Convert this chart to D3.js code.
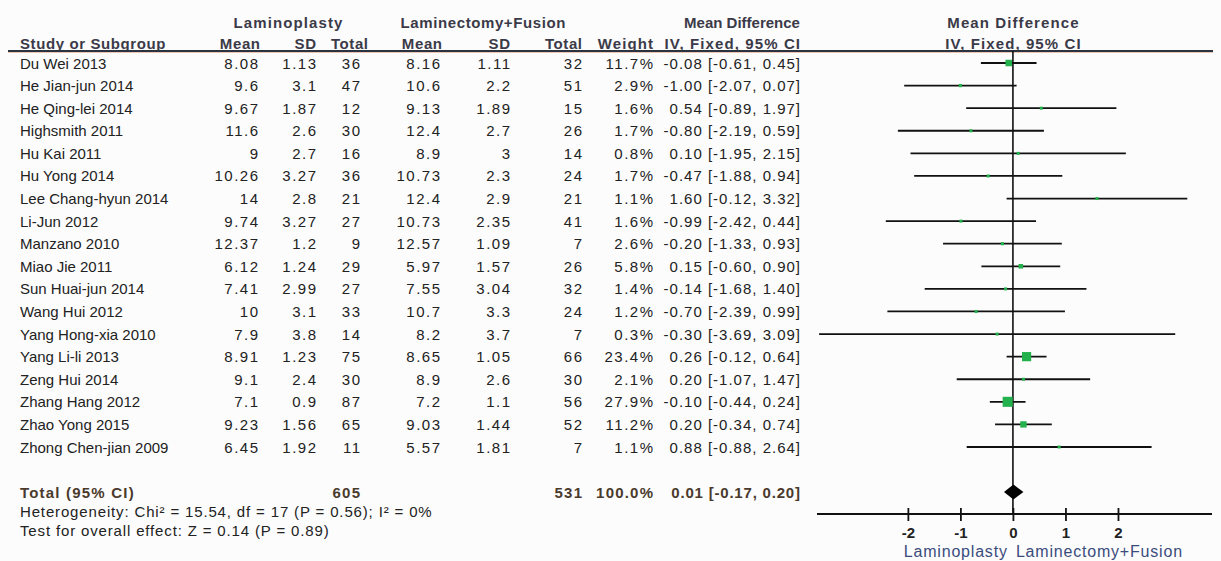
<!DOCTYPE html>
<html>
<head>
<meta charset="utf-8">
<script src="https://cdn.jsdelivr.net/npm/d3@7"></script>
<style>
  html, body { margin: 0; padding: 0; background: #fcfcfc; }
  svg { display: block; }
  text { font-family: "Liberation Sans", Arial, sans-serif; }
</style>
</head>
<body>
<svg id="chart" width="1221" height="561"></svg>
<script>
// Studies and their arm statistics (shown as printed)
const studies = [
  "Du Wei 2013", "He Jian-jun 2014", "He Qing-lei 2014", "Highsmith 2011",
  "Hu Kai 2011", "Hu Yong 2014", "Lee Chang-hyun 2014", "Li-Jun 2012",
  "Manzano 2010", "Miao Jie 2011", "Sun Huai-jun 2014", "Wang Hui 2012",
  "Yang Hong-xia 2010", "Yang Li-li 2013", "Zeng Hui 2014", "Zhang Hang 2012",
  "Zhao Yong 2015", "Zhong Chen-jian 2009"
];
const lpMean  = ["8.08","9.6","9.67","11.6","9","10.26","14","9.74","12.37","6.12","7.41","10","7.9","8.91","9.1","7.1","9.23","6.45"];
const lpSD    = ["1.13","3.1","1.87","2.6","2.7","3.27","2.8","3.27","1.2","1.24","2.99","3.1","3.8","1.23","2.4","0.9","1.56","1.92"];
const lpTotal = [36, 47, 12, 30, 16, 36, 21, 27, 9, 29, 27, 33, 14, 75, 30, 87, 65, 11];
const lfMean  = ["8.16","10.6","9.13","12.4","8.9","10.73","12.4","10.73","12.57","5.97","7.55","10.7","8.2","8.65","8.9","7.2","9.03","5.57"];
const lfSD    = ["1.11","2.2","1.89","2.7","3","2.3","2.9","2.35","1.09","1.57","3.04","3.3","3.7","1.05","2.6","1.1","1.44","1.81"];
const lfTotal = [32, 51, 15, 26, 14, 24, 21, 41, 7, 26, 32, 24, 7, 66, 30, 56, 52, 7];
const weight  = [11.7, 2.9, 1.6, 1.7, 0.8, 1.7, 1.1, 1.6, 2.6, 5.8, 1.4, 1.2, 0.3, 23.4, 2.1, 27.9, 11.2, 1.1];
const md      = [-0.08, -1.00, 0.54, -0.80, 0.10, -0.47, 1.60, -0.99, -0.20, 0.15, -0.14, -0.70, -0.30, 0.26, 0.20, -0.10, 0.20, 0.88];
const ciLow   = [-0.61, -2.07, -0.89, -2.19, -1.95, -1.88, -0.12, -2.42, -1.33, -0.60, -1.68, -2.39, -3.69, -0.12, -1.07, -0.44, -0.34, -0.88];
const ciHigh  = [0.45, 0.07, 1.97, 0.59, 2.15, 0.94, 3.32, 0.44, 0.93, 0.90, 1.40, 0.99, 3.09, 0.64, 1.47, 0.24, 0.74, 2.64];

// Pooled estimate
const totalLabel = "Total (95% CI)";
const totalLp = 605, totalLf = 531, totalWeight = 100.0;
const pooled = { md: 0.01, lo: -0.17, hi: 0.20 };
const heterogeneity = "Heterogeneity: Chi\u00B2 = 15.54, df = 17 (P = 0.56); I\u00B2 = 0%";
const overallTest = "Test for overall effect: Z = 0.14 (P = 0.89)";

// Axis
const tickValues = [-2, -1, 0, 1, 2];
const favourLeft = "Laminoplasty", favourRight = "Laminectomy+Fusion";
const axisExtent = [-3.73, 3.79];

const svg = d3.select("#chart");
const fontSize = 15;
const headColor = "#3b3a48";
const bodyColor = "#222";
const totalColor = "#4a3a2c";

const y = d3.scalePoint().domain(studies).range([63, 447]);
const x = d3.scaleLinear().domain(axisExtent).range([817, 1212]);

// Column right edges for the table
const col = { study: 20, lpMean: 258, lpSD: 316, lpTotal: 360, lfMean: 440, lfSD: 510, lfTotal: 582, weight: 653, ci: 800 };

function txt(g, xx, yy, s, anchor, opts = {}) {
  const ls = opts.ls || 0;
  // trailing letter-spacing would push end-anchored text left, so compensate
  const shift = anchor === "end" ? ls : anchor === "middle" ? ls / 2 : 0;
  return g.append("text")
    .attr("x", xx + shift).attr("y", yy)
    .attr("text-anchor", anchor)
    .attr("dominant-baseline", "central")
    .attr("font-size", opts.size || fontSize)
    .attr("font-weight", opts.bold ? "bold" : "normal")
    .attr("letter-spacing", ls)
    .attr("fill", opts.color || bodyColor)
    .text(s);
}

// ----- Header -----
const head = svg.append("g");
const hb = { bold: true, color: headColor, ls: 0.6 };
const hbWide = { bold: true, color: headColor, ls: 1.1 };
txt(head, 288, 22, "Laminoplasty", "middle", hbWide);
txt(head, 483, 22, "Laminectomy+Fusion", "middle", hb);
txt(head, 742, 22, "Mean Difference", "middle", { bold: true, color: headColor });
txt(head, x(0), 22, "Mean Difference", "middle", hbWide);
txt(head, col.study, 43, "Study or Subgroup", "start", hb);
txt(head, col.lpMean + 2, 43, "Mean", "end", hb);
txt(head, col.lpSD, 43, "SD", "end", hb);
txt(head, col.lpTotal + 8, 43, "Total", "end", hb);
txt(head, col.lfMean + 2, 43, "Mean", "end", hb);
txt(head, col.lfSD, 43, "SD", "end", hb);
txt(head, col.lfTotal, 43, "Total", "end", hb);
txt(head, col.weight, 43, "Weight", "end", hbWide);
txt(head, col.ci, 43, "IV, Fixed, 95% CI", "end", hbWide);
txt(head, x(0), 43, "IV, Fixed, 95% CI", "middle", hbWide);

// header rule
head.append("line").attr("x1", 8).attr("x2", 1213).attr("y1", 51).attr("y2", 51)
  .attr("stroke", "#2b3340").attr("stroke-width", 2.2);
head.append("line").attr("x1", 8).attr("x2", 1213).attr("y1", 52.6).attr("y2", 52.6)
  .attr("stroke", "#d8906a").attr("stroke-width", 0.8).attr("opacity", 0.7);

// ----- Table rows -----
const rows = svg.append("g");
const num = { ls: 1.5 };
const ciStyle = { ls: 1.0 };
studies.forEach((s, i) => {
  const yy = y(s);
  txt(rows, col.study, yy, s, "start");
  txt(rows, col.lpMean, yy, lpMean[i], "end", num);
  txt(rows, col.lpSD, yy, lpSD[i], "end", num);
  txt(rows, col.lpTotal, yy, lpTotal[i], "end", num);
  txt(rows, col.lfMean, yy, lfMean[i], "end", num);
  txt(rows, col.lfSD, yy, lfSD[i], "end", num);
  txt(rows, col.lfTotal, yy, lfTotal[i], "end", num);
  txt(rows, col.weight, yy, weight[i].toFixed(1) + "%", "end", num);
  txt(rows, col.ci, yy, `${md[i].toFixed(2)} [${ciLow[i].toFixed(2)}, ${ciHigh[i].toFixed(2)}]`, "end", ciStyle);
});

// Totals and test statistics
const yTotal = 492;
const tb = { bold: true, color: totalColor, ls: 1.2 };
txt(rows, col.study, yTotal, totalLabel, "start", tb);
txt(rows, col.lpTotal, yTotal, totalLp, "end", tb);
txt(rows, col.lfTotal, yTotal, totalLf, "end", tb);
txt(rows, col.weight, yTotal, totalWeight.toFixed(1) + "%", "end", tb);
txt(rows, col.ci, yTotal, `${pooled.md.toFixed(2)} [${pooled.lo.toFixed(2)}, ${pooled.hi.toFixed(2)}]`, "end", { bold: true, color: totalColor, ls: 0.8 });
txt(rows, col.study, 511, heterogeneity, "start", { size: 15, ls: 0.85 });
txt(rows, col.study, 530, overallTest, "start", { size: 15, ls: 0.85 });

// ----- Forest plot -----
const plot = svg.append("g");
const axisY = 514;

// line of no effect
plot.append("line").attr("x1", x(0)).attr("x2", x(0)).attr("y1", 51).attr("y2", axisY)
  .attr("stroke", "#111").attr("stroke-width", 1.6);

// confidence intervals
plot.selectAll("line.ci").data(studies).join("line")
  .attr("class", "ci")
  .attr("x1", (d, i) => x(ciLow[i])).attr("x2", (d, i) => x(ciHigh[i]))
  .attr("y1", d => y(d)).attr("y2", d => y(d))
  .attr("stroke", "#111").attr("stroke-width", 1.8);

// point estimates, box area proportional to weight
const boxSize = w => Math.max(3, 1.9 * Math.sqrt(w));
plot.selectAll("rect.est").data(studies).join("rect")
  .attr("class", "est")
  .attr("x", (d, i) => x(md[i]) - boxSize(weight[i]) / 2)
  .attr("y", (d, i) => y(d) - boxSize(weight[i]) / 2)
  .attr("width", (d, i) => boxSize(weight[i]))
  .attr("height", (d, i) => boxSize(weight[i]))
  .attr("fill", "#22b14c");

// pooled diamond
const dh = 7.5;
plot.append("path")
  .attr("d", `M${x(pooled.lo)},${yTotal} L${x(pooled.md)},${yTotal - dh} L${x(pooled.hi)},${yTotal} L${x(pooled.md)},${yTotal + dh} Z`)
  .attr("fill", "#000");

// x axis
const axis = d3.axisBottom(x).tickValues(tickValues).tickSize(0).tickPadding(0)
  .tickFormat(d => String(d));
const ax = plot.append("g").attr("transform", `translate(0,${axisY})`).call(axis);
ax.select(".domain").remove();
ax.append("line").attr("x1", x(axisExtent[0])).attr("x2", x(axisExtent[1]))
  .attr("stroke", "#111").attr("stroke-width", 1.8);
ax.selectAll(".tick").append("line")
  .attr("y1", -6).attr("y2", 7).attr("stroke", "#111").attr("stroke-width", 1.8);
ax.selectAll(".tick text")
  .attr("y", 18).attr("dy", 0).attr("dominant-baseline", "central")
  .attr("font-size", 15).attr("font-weight", "bold").attr("fill", "#222")
  .attr("font-family", "Liberation Sans, Arial, sans-serif");

// favours labels
const favColor = "#3a4c7c";
txt(plot, x(0) - 6, 551, favourLeft, "end", { color: favColor, size: 16, ls: 0.8 });
txt(plot, x(0) + 3, 551, favourRight, "start", { color: favColor, size: 16, ls: 0.8 });
</script>
</body>
</html>
